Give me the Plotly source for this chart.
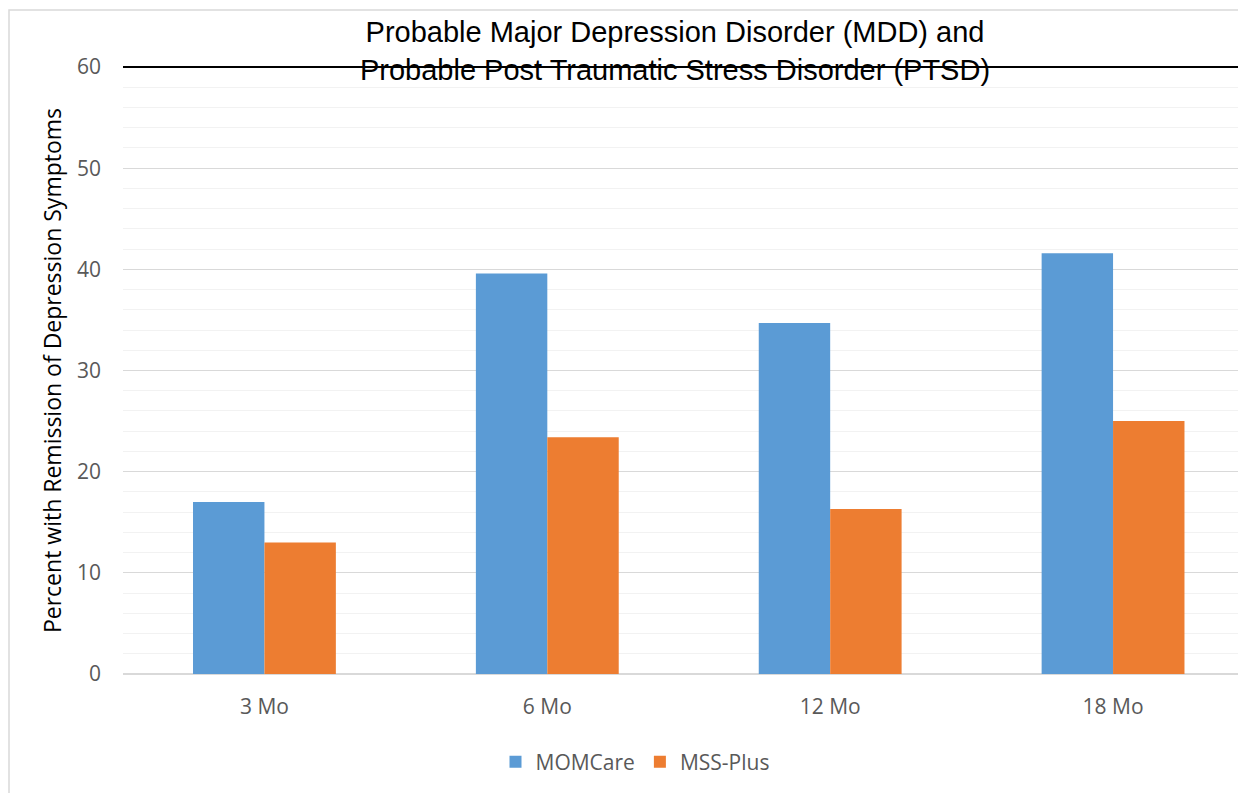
import plotly.graph_objects as go

categories = ["3 Mo", "6 Mo", "12 Mo", "18 Mo"]
momcare = [17.0, 39.6, 34.7, 41.6]
mss_plus = [13.0, 23.4, 16.3, 25.0]
y_ticks = [0, 10, 20, 30, 40, 50, 60]

W, H = 1238, 785  # page body has an 8px margin
TICK_FONT = dict(family="Open Sans", size=21, color="#595959")

fig = go.Figure()
fig.add_trace(go.Bar(name="MOMCare", x=categories, y=momcare, marker_color="#5B9BD5",
                     marker_line_width=0))
fig.add_trace(go.Bar(name="MSS-Plus", x=categories, y=mss_plus, marker_color="#ED7D31",
                     marker_line_width=0))

fig.update_layout(
    width=W, height=H,
    margin=dict(l=115, r=0, t=59, b=119),
    paper_bgcolor="white", plot_bgcolor="white",
    barmode="group", bargap=0.495, bargroupgap=0,
    title=dict(
        text="Probable Major Depression Disorder (MDD) and<br>Probable Post Traumatic Stress Disorder (PTSD)",
        font=dict(family="Liberation Sans, Arial", size=29, color="#000000"),
        x=667 / W, xanchor="center", xref="container",
        y=1 - 34 / H, yanchor="middle", yref="container",
    ),
    legend=dict(orientation="h", x=627 / W, xanchor="center", xref="container",
                y=1 - 754 / H, yanchor="middle", yref="container",
                font=TICK_FONT, itemwidth=30, traceorder="normal"),
    xaxis=dict(range=[-0.5, 3.47], tickfont=TICK_FONT, showgrid=False, showline=False,
               ticks="", ticklabelstandoff=18),
    yaxis=dict(range=[0, 60], tickvals=y_ticks, tickfont=TICK_FONT,
               showgrid=True, gridcolor="#D9D9D9", gridwidth=1,
               zeroline=True, zerolinecolor="#D9D9D9", zerolinewidth=1.5,
               showline=False, ticks="", ticklabelstandoff=21,
               minor=dict(dtick=2, showgrid=True, gridcolor="#F2F2F2", gridwidth=1),
               title=dict(text="Percent with Remission of Depression Symptoms",
                          font=dict(family="Open Sans", size=23, color="#000000"),
                          standoff=8)),
)

# chart area border (cropped at the right/bottom in the reference)
fig.add_shape(type="rect", xref="paper", yref="paper",
              x0=(1 - 115) / 1123, x1=1.05, y0=-0.25, y1=(666 - 2) / 607,
              line=dict(color="#D9D9D9", width=1.5), fillcolor="rgba(0,0,0,0)", layer="below")
# black top line
fig.add_shape(type="line", xref="paper", yref="paper", x0=0, x1=1.01, y0=1, y1=1,
              line=dict(color="#000000", width=2), layer="above")

fig.write_html("out.html")
